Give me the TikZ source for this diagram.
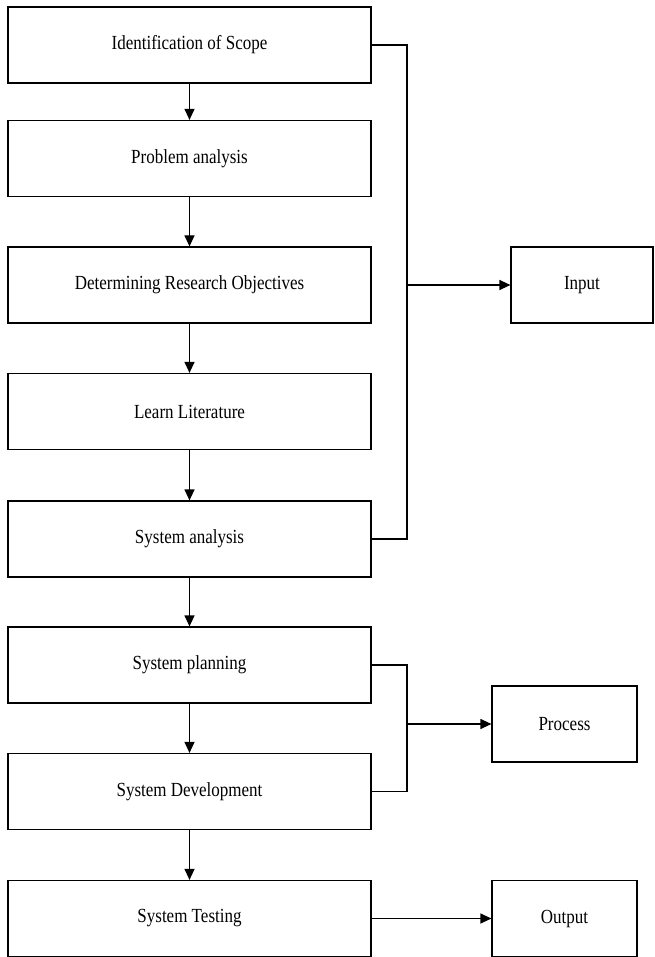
\documentclass[tikz,border=0pt]{standalone}
\usepackage{fontspec}
\setmainfont{Liberation Serif}[FakeStretch=0.85]
\usetikzlibrary{arrows.meta}
\begin{document}
\begin{tikzpicture}[x=1pt,y=-1pt,
  stepbox/.style={draw=black,line width=1.2pt,minimum width=363pt,minimum height=76pt,inner sep=0pt,font=\fontsize{20}{24}\selectfont},
  sidebox/.style={draw=black,line width=1.2pt,minimum width=145pt,minimum height=76pt,inner sep=0pt,font=\fontsize{20}{24}\selectfont},
  conn/.style={line width=1.2pt,draw=black},
  arr/.style={conn,-{Triangle[length=11pt,width=10pt]}}]
\useasboundingbox (0,0) rectangle (654,957);
\node[stepbox] (b1) at (189.5,45) {Identification of Scope};
\node[stepbox] (b2) at (189.5,158.5) {Problem analysis};
\node[stepbox] (b3) at (189.5,285) {Determining Research Objectives};
\node[stepbox] (b4) at (189.5,411.5) {Learn Literature};
\node[stepbox] (b5) at (189.5,539) {System analysis};
\node[stepbox] (b6) at (189.5,665) {System planning};
\node[stepbox] (b7) at (189.5,791.5) {System Development};
\node[stepbox] (b8) at (189.5,918.5) {System Testing};
\node[sidebox,minimum width=142pt] (in) at (582,285) {Input};
\node[sidebox] (pr) at (564.5,724) {Process};
\node[sidebox] (out) at (564.5,918.5) {Output};
\draw[arr] (b1) -- (b2);
\draw[arr] (b2) -- (b3);
\draw[arr] (b3) -- (b4);
\draw[arr] (b4) -- (b5);
\draw[arr] (b5) -- (b6);
\draw[arr] (b6) -- (b7);
\draw[arr] (b7) -- (b8);
\coordinate (j1) at (407,45);
\coordinate (j5) at (407,539);
\coordinate (jin) at (407,285);
\draw[conn] (b1.east) -- (j1) -- (j5) -- (b5.east);
\draw[arr] (jin) -- (in.west);
\coordinate (j6) at (407,665);
\coordinate (j7) at (407,791.5);
\coordinate (jpr) at (407,724);
\draw[conn] (b6.east) -- (j6) -- (j7) -- (b7.east);
\draw[arr] (jpr) -- (pr.west);
\draw[arr] (b8.east) -- (out.west);
\end{tikzpicture}
\end{document}
